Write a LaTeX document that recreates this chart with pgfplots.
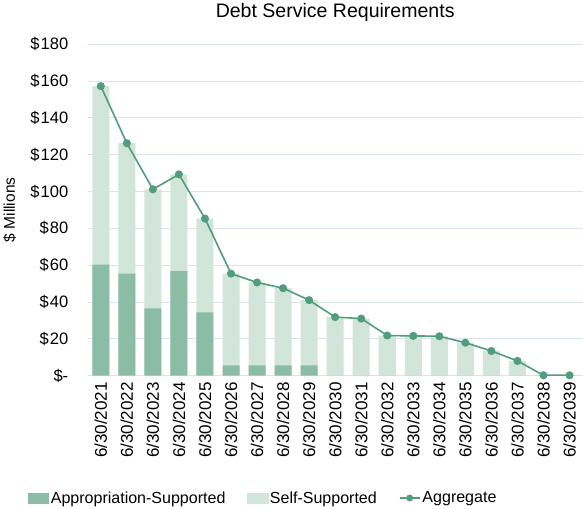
\documentclass[border=0pt]{standalone}
\usepackage{fontspec}
\setmainfont{Liberation Sans}
\usepackage{pgfplots}
\pgfplotsset{compat=1.18}
\definecolor{darkg}{HTML}{8BBDA6}
\definecolor{lightg}{HTML}{D1E5DB}
\definecolor{lineg}{HTML}{529D7D}
\definecolor{gridc}{HTML}{DAE3F1}
\begin{document}
\begin{tikzpicture}
\begin{axis}[
  scale only axis, width=494pt, height=331pt,
  xmin=-0.5, xmax=18.5, ymin=0, ymax=180,
  ytick={0,20,...,180},
  yticklabels={\$-,\$\kern1pt20,\$\kern1pt40,\$\kern1pt60,\$\kern1pt80,\$\kern1pt100,\$\kern1pt120,\$\kern1pt140,\$\kern1pt160,\$\kern1pt180},
  xtick={0,...,18},
  xticklabels={6/30/2021,6/30/2022,6/30/2023,6/30/2024,6/30/2025,6/30/2026,6/30/2027,6/30/2028,6/30/2029,6/30/2030,6/30/2031,6/30/2032,6/30/2033,6/30/2034,6/30/2035,6/30/2036,6/30/2037,6/30/2038,6/30/2039},
  x tick label style={rotate=90, anchor=east, font=\fontsize{17}{20}\selectfont, xshift=-3pt},
  y tick label style={font=\fontsize{16.5}{20}\selectfont, xshift=-16pt},
  major tick length=0pt,
  ymajorgrids, grid style={gridc, line width=0.9pt},
  axis x line*=bottom, axis y line*=left,
  y axis line style={draw=none},
  x axis line style={gridc, line width=0.9pt, -},
  ylabel={\$ Millions},
  ylabel style={font=\fontsize{15.5}{18}\selectfont, at={(axis description cs:-0.158,0.5)}, anchor=center},
  title={Debt Service Requirements},
  title style={font=\fontsize{19.5}{22}\selectfont, at={(axis description cs:0.5,1)}, anchor=center, inner sep=3pt, yshift=26pt},
  legend style={draw=none, at={(0.355,-0.369)}, anchor=center, legend columns=3,
    font=\fontsize{16}{19}\selectfont,
    nodes={inner xsep=2pt},
    /tikz/every even column/.append style={column sep=20pt}},
  legend cell align=left,
]
\addlegendimage{legend image code/.code={\fill[darkg] (0pt,-5pt) rectangle (20pt,5pt);}}
\addlegendentry{Appropriation-Supported}
\addlegendimage{legend image code/.code={\fill[lightg] (0pt,-5pt) rectangle (20pt,5pt);}}
\addlegendentry{Self-Supported}
\addlegendimage{legend image code/.code={\draw[lineg, line width=1.6pt] (0pt,0pt) -- (20pt,0pt); \fill[lineg] (10pt,0pt) circle (3.2pt);}}
\addlegendentry{Aggregate}
\addplot[ybar, bar width=17pt, bar shift=0pt, fill=lightg, draw=none, forget plot] coordinates {
(0,157.2)(1,126.2)(2,101.2)(3,109.3)(4,85.3)(5,55.4)(6,50.6)(7,47.5)(8,41.0)(9,31.8)(10,31.0)(11,21.8)(12,21.6)(13,21.4)(14,17.9)(15,13.4)(16,8.0)(17,0.2)(18,0.2)};
\addplot[ybar, bar width=17pt, bar shift=0pt, fill=darkg, draw=none, forget plot] coordinates {
(0,60.3)(1,55.4)(2,36.6)(3,56.7)(4,34.3)(5,5.6)(6,5.6)(7,5.6)(8,5.6)(9,0)(10,0)(11,0)(12,0)(13,0)(14,0)(15,0)(16,0)(17,0)(18,0)};
\addplot[lineg, line width=1.6pt, mark=*, mark size=3.2pt, forget plot] coordinates {
(0,157.2)(1,126.2)(2,101.2)(3,109.3)(4,85.3)(5,55.4)(6,50.6)(7,47.5)(8,41.0)(9,31.8)(10,31.0)(11,21.8)(12,21.6)(13,21.4)(14,17.9)(15,13.4)(16,8.0)(17,0.2)(18,0.2)};
\end{axis}
\end{tikzpicture}
\end{document}
